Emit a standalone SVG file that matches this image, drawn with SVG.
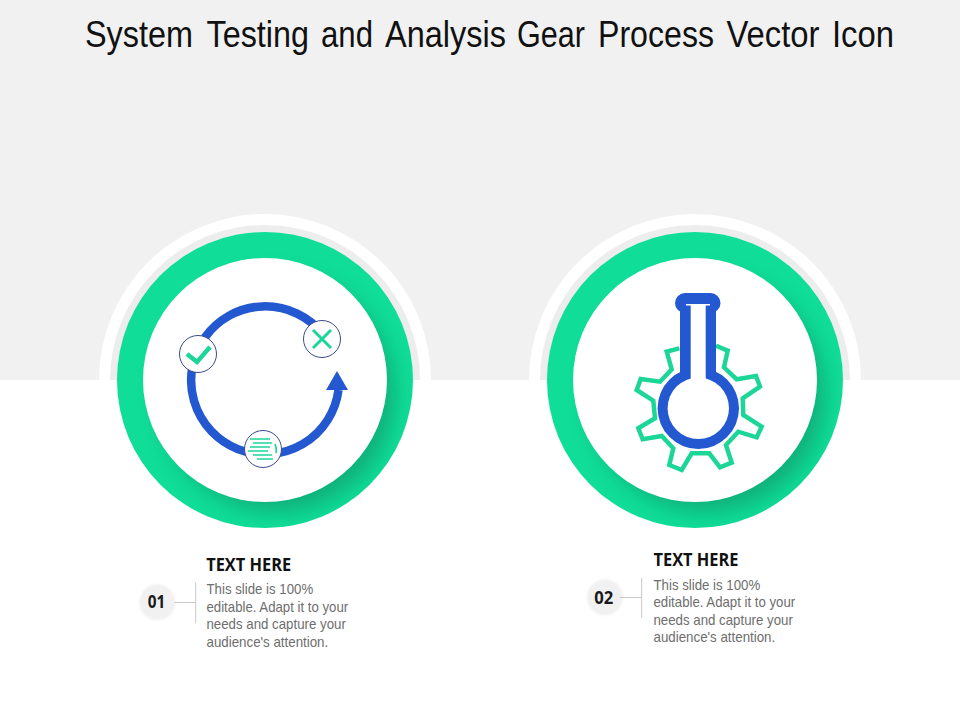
<svg xmlns="http://www.w3.org/2000/svg" width="960" height="720" viewBox="0 0 960 720">
<style>
.title{font-family:"Liberation Sans",Arial,sans-serif;font-size:37px;fill:#111}
.head{font-family:"Open Sans","Noto Sans",sans-serif;font-size:18.5px;font-weight:700;fill:#111}
.body{font-family:"Liberation Sans",Arial,sans-serif;font-size:14.500px;fill:#6e6e6e}
.num{font-family:"Open Sans","Noto Sans",sans-serif;font-size:17.700px;font-weight:700;fill:#1a1a1a}
.rule{stroke:#c9c9c9;stroke-width:1;fill:none}
.ring{fill:#10dd97}
.blue{fill:#2458d0}
.arc{fill:none;stroke:#2458d0;stroke-width:8.500}
.badge{fill:#fff;stroke:#3a4a8c;stroke-width:1}
.mark{fill:none;stroke:#1cd698;stroke-width:3}
.lines{fill:none;stroke:#1cd698;stroke-width:1.700}
</style>
<defs>
<filter id="blur" x="-30%" y="-30%" width="160%" height="160%"><feGaussianBlur stdDeviation="10"/></filter>
<filter id="soft" x="-30%" y="-30%" width="160%" height="160%"><feGaussianBlur stdDeviation="1"/></filter>
<clipPath id="r1"><circle cx="265" cy="380" r="148"/></clipPath>
<clipPath id="r2"><circle cx="695" cy="380" r="148"/></clipPath>
<clipPath id="top"><rect x="0" y="0" width="960" height="380"/></clipPath>
</defs>
<rect id="background" width="960" height="720" fill="#fff"/>
<rect id="band" width="960" height="380" fill="#f1f1f1"/>
<text id="title" class="title" y="46.700"><tspan x="85" textLength="108" lengthAdjust="spacingAndGlyphs">System</tspan> <tspan x="206.500" textLength="102.500" lengthAdjust="spacingAndGlyphs">Testing</tspan> <tspan x="321" textLength="52" lengthAdjust="spacingAndGlyphs">and</tspan> <tspan x="385" textLength="121" lengthAdjust="spacingAndGlyphs">Analysis</tspan> <tspan x="517" textLength="68" lengthAdjust="spacingAndGlyphs">Gear</tspan> <tspan x="598" textLength="116" lengthAdjust="spacingAndGlyphs">Process</tspan> <tspan x="726.500" textLength="93" lengthAdjust="spacingAndGlyphs">Vector</tspan> <tspan x="832" textLength="62" lengthAdjust="spacingAndGlyphs">Icon</tspan></text>

<g id="node-1">
<g clip-path="url(#top)"><circle cx="265" cy="380" r="166" fill="#fff"/><circle cx="265" cy="380" r="155" fill="#ededed"/></g>
<circle class="ring" cx="265" cy="380" r="148"/>
<g clip-path="url(#r1)"><circle cx="277" cy="394" r="118" fill="#08845f" opacity=".5" filter="url(#blur)"/></g>
<circle cx="265" cy="380" r="122" fill="#fff"/>
<path class="arc" d="M322 333A74 74 0 1 0 338.500 390"/>
<path class="blue" d="M337 371L348 390H326Z"/>
<g id="badge-check"><circle class="badge" cx="198" cy="354" r="18.500"/><path class="mark" style="stroke-width:4.500" d="M187 354L197 362L210 347"/></g>
<g id="badge-cross"><circle class="badge" cx="322" cy="339" r="18.500"/><path class="mark" d="M313 330L331 348M331 330L313 348"/></g>
<g id="badge-list"><circle class="badge" cx="263" cy="449" r="18.500"/><path class="lines" d="M250 439H270M253 443H272M250 447H270M248 451H268M253 455H272M257 459H273M275 444Q277 449 276 453"/></g>
</g>

<g id="node-2">
<g clip-path="url(#top)"><circle cx="695" cy="380" r="166" fill="#fff"/><circle cx="695" cy="380" r="155" fill="#ededed"/></g>
<circle class="ring" cx="695" cy="380" r="148"/>
<g clip-path="url(#r2)"><circle cx="707" cy="394" r="118" fill="#08845f" opacity=".5" filter="url(#blur)"/></g>
<circle cx="695" cy="380" r="122" fill="#fff"/>
<path id="gear" fill="none" stroke="#1cd698" stroke-width="4.500" d="M679.300 348.300L666.700 351.700L671.700 369.300L660 381.700L640.700 379L636.700 390L653.300 400.700L655 418.300L638.300 428.300L642.700 439.300L661.700 436L673.300 448.300L669.300 465L681.700 470L691.700 453.300L709.300 453.300L720 467.300L731.700 462.700L726 445L738.300 431.700L756.700 437.300L761.700 426.700L743.300 415L742.700 398.300L760 386.700L756 376L736.700 379.300L724 367.300L727.700 350.700L716 345.700"/>
<g id="flask">
<rect class="blue" x="675" y="293" width="45.500" height="20" rx="10"/>
<rect class="blue" x="680" y="300" width="36" height="90"/>
<circle class="blue" cx="698.300" cy="408.300" r="40.700"/>
<circle cx="698.300" cy="408.300" r="30.700" fill="#fff"/>
<rect x="690.700" y="304" width="15" height="85" fill="#fff"/>
<rect x="686" y="304" width="24" height="1.500" fill="#fff"/>
</g>
</g>

<g id="caption-1">
<circle cx="157.300" cy="602.300" r="18" fill="#f1f1f1" filter="url(#soft)"/>
<text class="num" x="147.700" y="608.300" textLength="17.500" lengthAdjust="spacingAndGlyphs">01</text>
<text class="head" x="206.200" y="570.700" textLength="85" lengthAdjust="spacingAndGlyphs">TEXT HERE</text>
<text class="body"><tspan x="206.500" y="594.300" textLength="106.700" lengthAdjust="spacingAndGlyphs">This slide is 100%</tspan><tspan x="206.500" y="611.700" textLength="141.700" lengthAdjust="spacingAndGlyphs">editable. Adapt it to your</tspan><tspan x="206.500" y="629.300" textLength="139.300" lengthAdjust="spacingAndGlyphs">needs and capture your</tspan><tspan x="206.500" y="647" textLength="121.700" lengthAdjust="spacingAndGlyphs">audience's attention.</tspan></text>
</g>
<g id="caption-2">
<circle cx="605" cy="597.300" r="18" fill="#f1f1f1" filter="url(#soft)"/>
<text class="num" x="594.300" y="603.800" textLength="19" lengthAdjust="spacingAndGlyphs">02</text>
<text class="head" x="653.500" y="566" textLength="85" lengthAdjust="spacingAndGlyphs">TEXT HERE</text>
<text class="body"><tspan x="653.500" y="589.500" textLength="106.700" lengthAdjust="spacingAndGlyphs">This slide is 100%</tspan><tspan x="653.500" y="606.700" textLength="141.700" lengthAdjust="spacingAndGlyphs">editable. Adapt it to your</tspan><tspan x="653.500" y="624.500" textLength="139.300" lengthAdjust="spacingAndGlyphs">needs and capture your</tspan><tspan x="653.500" y="642.300" textLength="121.700" lengthAdjust="spacingAndGlyphs">audience's attention.</tspan></text>
</g>
<g id="connectors">
<path class="rule" d="M174.300 602.500H195.700M195.700 582.300V623.300"/>
<path class="rule" d="M620 597.500H641.700M641.700 577.700V618.300"/>
</g>
</svg>
